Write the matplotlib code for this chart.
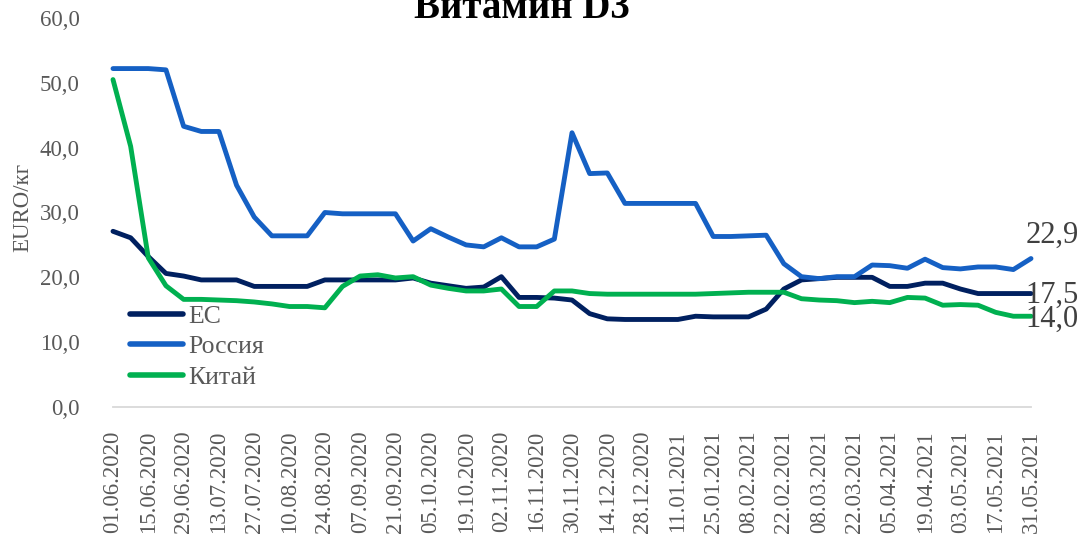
import numpy as np
import matplotlib
matplotlib.use("Agg")
import matplotlib.pyplot as plt

# ---- data ----
tick_labels = ["01.06.2020", "15.06.2020", "29.06.2020", "13.07.2020", "27.07.2020",
               "10.08.2020", "24.08.2020", "07.09.2020", "21.09.2020", "05.10.2020",
               "19.10.2020", "02.11.2020", "16.11.2020", "30.11.2020", "14.12.2020",
               "28.12.2020", "11.01.2021", "25.01.2021", "08.02.2021", "22.02.2021",
               "08.03.2021", "22.03.2021", "05.04.2021", "19.04.2021", "03.05.2021",
               "17.05.2021", "31.05.2021"]

eu = [27.1, 26.1, 23.2, 20.6, 20.2, 19.6, 19.6, 19.6, 18.6, 18.6,
      18.6, 18.6, 19.6, 19.6, 19.6, 19.6, 19.6, 19.9, 19.1, 18.7,
      18.3, 18.5, 20.1, 16.9, 16.9, 16.8, 16.5, 14.4, 13.6, 13.5,
      13.5, 13.5, 13.5, 14.0, 13.9, 13.9, 13.9, 15.1, 18.2, 19.6,
      19.8, 20.0, 20.0, 20.0, 18.6, 18.6, 19.1, 19.1, 18.2, 17.5,
      17.5, 17.5, 17.5]

russia = [52.2, 52.2, 52.2, 52.0, 43.3, 42.5, 42.5, 34.2, 29.3, 26.4,
          26.4, 26.4, 30.0, 29.8, 29.8, 29.8, 29.8, 25.6, 27.5, 26.2,
          25.0, 24.7, 26.1, 24.7, 24.7, 25.9, 42.3, 36.0, 36.1, 31.4,
          31.4, 31.4, 31.4, 31.4, 26.3, 26.3, 26.4, 26.5, 22.1, 20.1,
          19.8, 20.1, 20.1, 21.9, 21.8, 21.4, 22.8, 21.5, 21.3, 21.6,
          21.6, 21.2, 22.9]

china = [50.5, 40.2, 23.0, 18.7, 16.6, 16.6, 16.5, 16.4, 16.2, 15.9,
         15.5, 15.5, 15.3, 18.6, 20.2, 20.4, 19.9, 20.1, 18.8, 18.3,
         17.9, 17.9, 18.2, 15.5, 15.5, 17.9, 17.9, 17.5, 17.4, 17.4,
         17.4, 17.4, 17.4, 17.4, 17.5, 17.6, 17.7, 17.7, 17.7, 16.7,
         16.5, 16.4, 16.1, 16.3, 16.1, 16.9, 16.8, 15.7, 15.8, 15.7,
         14.6, 14.0, 14.0]

series_names = ["ЕС", "Россия", "Китай"]
series_colors = ["#002060", "#1560C4", "#00B050"]

# ---- plot ----
plt.rcParams['font.family'] = ['Liberation Serif', 'DejaVu Serif']
W, H = 1084, 534
fig = plt.figure(figsize=(W / 100, H / 100), dpi=100)
ax = fig.add_axes([113 / W, (H - 407) / H, (1031 - 113) / W, (407 - 18) / H])

x = np.arange(len(eu))
for vals, name, col in zip([eu, russia, china], series_names, series_colors):
    ax.plot(x, vals, color=col, lw=3.5, label=name, solid_capstyle='round',
            solid_joinstyle='round', clip_on=False)

ax.set_xlim(0, len(eu) - 1)
ax.set_ylim(0, 60)
ax.set_yticks(np.arange(0, 61, 10))
ax.set_yticklabels([f"{v:.1f}".replace('.', ',') for v in np.arange(0, 61, 10)])
ax.set_xticks(np.arange(0, len(eu), 2))
ax.set_xticklabels(tick_labels, rotation=90)

for s in ['top', 'right', 'left']:
    ax.spines[s].set_visible(False)
ax.spines['bottom'].set_color('#D9D9D9')
ax.spines['bottom'].set_linewidth(1.3)
ax.tick_params(axis='both', length=0, labelsize=16.5, colors='#595959')
ax.tick_params(axis='y', pad=24)
ax.tick_params(axis='x', pad=17)

# end labels
ann_color = '#404040'
ax.annotate(f"{russia[-1]:.1f}".replace('.', ','), (x[-1], russia[-1]),
            xytext=(-4, 17), textcoords='offset points', ha='left', va='center',
            fontsize=22, color=ann_color, annotation_clip=False)
ax.annotate(f"{eu[-1]:.1f}".replace('.', ','), (x[-1], eu[-1]),
            xytext=(-4, -1), textcoords='offset points', ha='left', va='center',
            fontsize=22, color=ann_color, annotation_clip=False)
ax.annotate(f"{china[-1]:.1f}".replace('.', ','), (x[-1], china[-1]),
            xytext=(-4, -2), textcoords='offset points', ha='left', va='center',
            fontsize=22, color=ann_color, annotation_clip=False)

leg = ax.legend(loc='upper left', bbox_to_anchor=((130 - 113) / (1031 - 113), (407 - 305) / (407 - 18)),
                frameon=False, fontsize=18.5, handlelength=2.05, handletextpad=0.2,
                labelspacing=0.29, borderpad=0, borderaxespad=0)
for t in leg.get_texts():
    t.set_color('#595959')
for h in leg.get_lines():
    h.set_linewidth(4)

fig.text(23 / W, 1 - 207 / H, "EURO/кг", rotation=90, ha='center', va='center',
         fontsize=16.5, color='#595959')
fig.text(522 / W, 1 - 18 / H, "Витамин D3", ha='center', va='baseline',
         fontsize=28, fontweight='bold', color='black')

fig.savefig("out.png", dpi=100)
